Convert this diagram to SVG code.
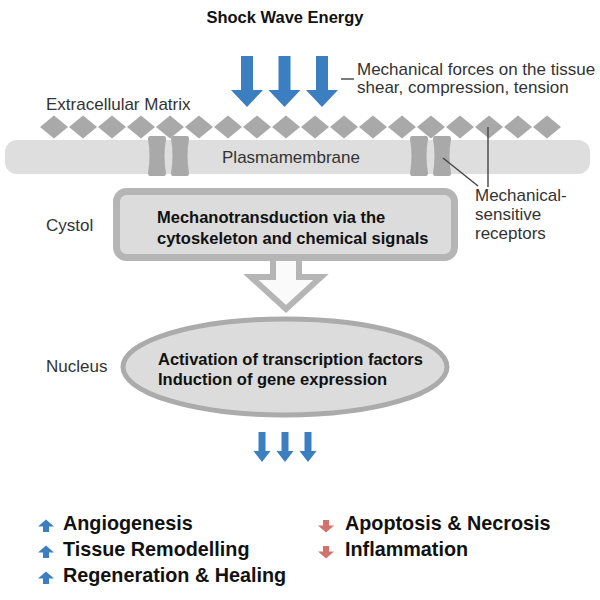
<svg xmlns="http://www.w3.org/2000/svg" xmlns:xlink="http://www.w3.org/1999/xlink" width="600" height="600" viewBox="0 0 600 600">
<style>
.reg{font-family:"Liberation Sans",Arial,sans-serif;fill:#333;font-size:17px}
.bold{font-family:"Liberation Sans",Arial,sans-serif;fill:#111;font-weight:bold;font-size:16.5px}
.leg{font-family:"Liberation Sans",Arial,sans-serif;fill:#111;font-weight:bold;font-size:19.8px}
.blue{fill:#3b7fc1}
.red{fill:#d27270}
.dia{fill:#a9a9a9}
.chan{fill:#a9a9a9}
.line{stroke:#444;stroke-width:1.4;fill:none}
</style>
<defs>
<path id="diamond" class="dia" d="M0,-11.5 L14,0 L0,11.5 L-14,0 Z"/>
<path id="channel" class="chan" d="M2,0 H16 Q18,0 18,3 Q15,20 18,37 Q18,40 16,40 H2 Q0,40 0,37 Q3,20 0,3 Q0,0 2,0 Z"/>
<path id="bigArrow" class="blue" d="M-6,0 H6 V34 H16 L0,51 L-16,34 H-6 Z"/>
<path id="smallArrow" class="blue" d="M-3.5,0 H3.5 V19 H8.5 L0,30 L-8.5,19 H-3.5 Z"/>
<path id="upArrow" d="M-3,6 V0.5 H-8 L0,-6.5 L8,0.5 H3 V6 Z"/>
<path id="downArrow" d="M-3,-6 V-0.5 H-8 L0,6.5 L8,-0.5 H3 V-6 Z"/>
</defs>

<g id="title">
<text class="bold" x="285" y="23" text-anchor="middle" font-size="16">Shock Wave Energy</text>
</g>

<g id="shock-arrows">
<use xlink:href="#bigArrow" href="#bigArrow" x="247" y="56"/>
<use xlink:href="#bigArrow" href="#bigArrow" x="284.5" y="56"/>
<use xlink:href="#bigArrow" href="#bigArrow" x="322" y="56"/>
</g>

<g id="forces-label">
<line x1="341" y1="79" x2="354" y2="79" stroke="#444" stroke-width="1.4"/>
<text class="reg" x="357" y="75" font-size="17.6">Mechanical forces on the tissue</text>
<text class="reg" x="357" y="93" font-size="17.6">shear, compression, tension</text>
</g>

<g id="ecm-label">
<text class="reg" x="46" y="110">Extracellular Matrix</text>
</g>

<g id="membrane">
<rect x="5" y="140" width="585" height="34" rx="12" fill="#dedede"/>
<text class="reg" x="291" y="163" text-anchor="middle" fill="#444" font-size="17.5">Plasmamembrane</text>
</g>

<g id="ecm">
<use href="#diamond" x="54" y="127"/><use href="#diamond" x="83" y="127"/><use href="#diamond" x="112" y="127"/>
<use href="#diamond" x="141" y="127"/><use href="#diamond" x="170" y="127"/><use href="#diamond" x="199" y="127"/>
<use href="#diamond" x="228" y="127"/><use href="#diamond" x="257" y="127"/><use href="#diamond" x="286" y="127"/>
<use href="#diamond" x="315" y="127"/><use href="#diamond" x="344" y="127"/><use href="#diamond" x="373" y="127"/>
<use href="#diamond" x="402" y="127"/><use href="#diamond" x="431" y="127"/><use href="#diamond" x="460" y="127"/>
<use href="#diamond" x="489" y="127"/><use href="#diamond" x="518" y="127"/><use href="#diamond" x="547" y="127"/>
</g>

<g id="receptors">
<use href="#channel" x="148" y="136"/>
<use href="#channel" x="171" y="136"/>
<use href="#channel" x="410" y="136"/>
<use href="#channel" x="433" y="136"/>
</g>

<g id="connectors">
<line class="line" x1="488" y1="127" x2="488" y2="187"/>
<line class="line" x1="443" y1="158" x2="478" y2="186"/>
</g>

<g id="receptor-label">
<text class="reg" x="475" y="201">Mechanical-</text>
<text class="reg" x="475" y="220">sensitive</text>
<text class="reg" x="475" y="239">receptors</text>
</g>

<g id="cystol-label">
<text class="reg" x="46" y="231">Cystol</text>
</g>

<g id="flow-arrow">
<path d="M273,255 V277 H251 L286,309 L321,277 H299 V255" fill="#fafafa" stroke="#b5b5b5" stroke-width="6" stroke-linejoin="miter"/>
</g>

<g id="mechanotransduction">
<rect x="116.5" y="191.5" width="338" height="66" rx="10" fill="#dcdcdc" stroke="#b5b5b5" stroke-width="7"/>
<text class="bold" x="157" y="223">Mechanotransduction via the</text>
<text class="bold" x="157" y="244">cytoskeleton and chemical signals</text>
</g>

<g id="nucleus-label">
<text class="reg" x="46" y="372">Nucleus</text>
</g>

<g id="nucleus">
<ellipse cx="285" cy="367" rx="162" ry="48" fill="#dcdcdc" stroke="#ababab" stroke-width="5"/>
<text class="bold" x="158" y="365">Activation of transcription factors</text>
<text class="bold" x="158" y="385">Induction of gene expression</text>
</g>

<g id="output-arrows">
<use href="#smallArrow" x="262" y="432"/>
<use href="#smallArrow" x="285" y="432"/>
<use href="#smallArrow" x="308" y="432"/>
</g>

<g id="legend-up">
<use href="#upArrow" class="blue" x="46" y="526"/>
<text class="leg" x="63" y="530">Angiogenesis</text>
<use href="#upArrow" class="blue" x="46" y="552"/>
<text class="leg" x="63" y="556">Tissue Remodelling</text>
<use href="#upArrow" class="blue" x="46" y="578"/>
<text class="leg" x="63" y="582">Regeneration &amp; Healing</text>
</g>

<g id="legend-down">
<use href="#downArrow" class="red" x="326" y="526"/>
<text class="leg" x="345" y="530">Apoptosis &amp; Necrosis</text>
<use href="#downArrow" class="red" x="326" y="552"/>
<text class="leg" x="345" y="556">Inflammation</text>
</g>
</svg>
